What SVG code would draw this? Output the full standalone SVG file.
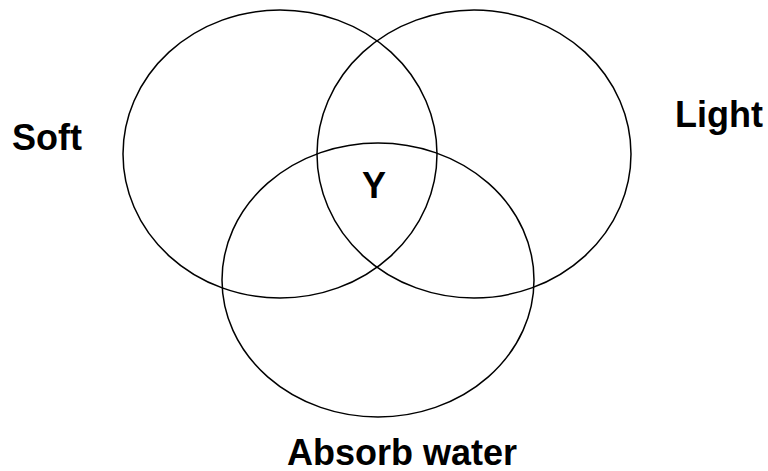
<svg xmlns="http://www.w3.org/2000/svg" width="768" height="471" viewBox="0 0 768 471">
<style>
.c{fill:none;stroke:#000;stroke-width:1.5}
.t{font-family:"Liberation Sans",Arial,sans-serif;font-weight:bold;font-size:36px;fill:#000}
</style>
<rect width="768" height="471" fill="#fff"/>
<g id="set-soft"><ellipse class="c" cx="280" cy="154" rx="157" ry="144"/></g>
<g id="set-light"><ellipse class="c" cx="474" cy="154" rx="157" ry="144"/></g>
<g id="set-absorb"><ellipse class="c" cx="378" cy="280" rx="156" ry="137"/></g>
<g id="labels">
<text class="t" x="12" y="150">Soft</text>
<text class="t" x="675" y="127">Light</text>
<text class="t" x="362" y="198">Y</text>
<text class="t" x="287" y="465">Absorb water</text>
</g>
</svg>
